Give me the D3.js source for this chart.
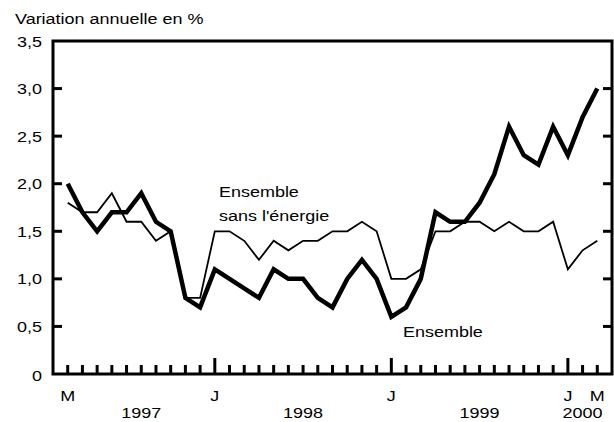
<!DOCTYPE html>
<html>
<head>
<meta charset="utf-8">
<script src="https://cdn.jsdelivr.net/npm/d3@7"></script>
<style>
  body { margin: 0; background: #fff; overflow: hidden; }
  svg { display: block; }
  text { font-family: "Liberation Sans", Arial, sans-serif; fill: #000; font-size: 15.5px; }
</style>
</head>
<body>
<div id="chart"></div>
<script>
// monthly, March 1997 .. March 2000
var months = ["M","A","M","J","J","A","S","O","N","D",
              "J","F","M","A","M","J","J","A","S","O","N","D",
              "J","F","M","A","M","J","J","A","S","O","N","D",
              "J","F","M"];
var ensemble = [2.0,1.7,1.5,1.7,1.7,1.9,1.6,1.5,0.8,0.7,
                1.1,1.0,0.9,0.8,1.1,1.0,1.0,0.8,0.7,1.0,1.2,1.0,
                0.6,0.7,1.0,1.7,1.6,1.6,1.8,2.1,2.6,2.3,2.2,2.6,
                2.3,2.7,3.0];
var sansEnergie = [1.8,1.7,1.7,1.9,1.6,1.6,1.4,1.5,0.8,0.8,
                   1.5,1.5,1.4,1.2,1.4,1.3,1.4,1.4,1.5,1.5,1.6,1.5,
                   1.0,1.0,1.1,1.5,1.5,1.6,1.6,1.5,1.6,1.5,1.5,1.6,
                   1.1,1.3,1.4];
var yTicks = [0, 0.5, 1.0, 1.5, 2.0, 2.5, 3.0, 3.5];
var monthLabels = [{i: 0, t: "M"}, {i: 10, t: "J"}, {i: 22, t: "J"}, {i: 34, t: "J"}, {i: 36, t: "M"}];
var yearLabels = [{i: 5, t: "1997"}, {i: 16, t: "1998"}, {i: 28, t: "1999"}, {i: 35, t: "2000"}];

var width = 614, height = 422;
var mLeft = 53, mRight = 612, mTop = 41, mBottom = 374;
var stretch = 1.16; // the original type is a bit wider than Arial

var svg = d3.select("#chart").append("svg")
    .attr("width", width)
    .attr("height", height);

var x = d3.scaleLinear().domain([-1, 37]).range([mLeft, mRight]);
var y = d3.scaleLinear().domain([0, 3.5]).range([mBottom, mTop]);

var fmt = function(d) { return d === 0 ? "0" : d3.format(".1f")(d).replace(".", ","); };

// text placed with a horizontal stretch
function label(g, px, py, txt, anchor) {
    return g.append("text")
        .attr("transform", "translate(" + px + "," + py + ") scale(" + stretch + ",1)")
        .attr("text-anchor", anchor || "start")
        .text(txt);
}

// y ticks, left and right, pointing inward
var inner = yTicks.slice(1, -1);
svg.append("g").selectAll("line")
    .data(inner)
    .enter().append("line")
    .attr("x1", mLeft).attr("x2", mLeft + 9)
    .attr("y1", function(d) { return y(d); }).attr("y2", function(d) { return y(d); })
    .attr("stroke", "#000").attr("stroke-width", 3);
svg.append("g").selectAll("line")
    .data(inner)
    .enter().append("line")
    .attr("x1", mRight).attr("x2", mRight - 9)
    .attr("y1", function(d) { return y(d); }).attr("y2", function(d) { return y(d); })
    .attr("stroke", "#000").attr("stroke-width", 3);

var gy = svg.append("g");
yTicks.forEach(function(d) {
    label(gy, 42, y(d) + 5.5 + (d === 0 ? 1 : 0), fmt(d), "end");
});

// month ticks on the bottom axis
svg.append("g").selectAll("line")
    .data(months)
    .enter().append("line")
    .attr("x1", function(d, i) { return x(i); })
    .attr("x2", function(d, i) { return x(i); })
    .attr("y1", mBottom)
    .attr("y2", function(d, i) { return (i === 10 || i === 22 || i === 34) ? mBottom - 16 : mBottom - 9; })
    .attr("stroke", "#000").attr("stroke-width", 3);

// frame
svg.append("rect")
    .attr("x", mLeft).attr("y", mTop)
    .attr("width", mRight - mLeft).attr("height", mBottom - mTop)
    .attr("fill", "none").attr("stroke", "#000").attr("stroke-width", 3);

var gx = svg.append("g");
monthLabels.forEach(function(d) { label(gx, x(d.i), 401, d.t, "middle"); });
yearLabels.forEach(function(d) { label(gx, x(d.i), 418, d.t, "middle"); });

var line = d3.line()
    .x(function(d, i) { return x(i); })
    .y(function(d) { return y(d); });

svg.append("path")
    .datum(sansEnergie)
    .attr("d", line)
    .attr("fill", "none").attr("stroke", "#000").attr("stroke-width", 1.8);

svg.append("path")
    .datum(ensemble)
    .attr("d", line)
    .attr("fill", "none").attr("stroke", "#000").attr("stroke-width", 4.5);

// titles and series labels
label(svg, 15, 24, "Variation annuelle en %");
label(svg, 219, 197, "Ensemble");
label(svg, 219, 221, "sans l'énergie");
label(svg, 403, 337, "Ensemble");
</script>
</body>
</html>
